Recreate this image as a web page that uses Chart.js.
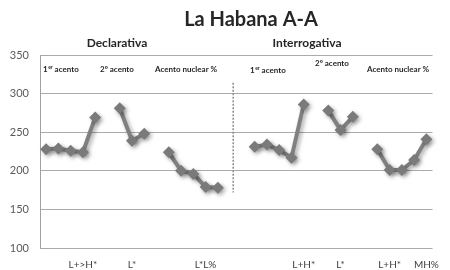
<!DOCTYPE html>
<html>
<head>
<meta charset="utf-8">
<script src="https://cdn.jsdelivr.net/npm/chart.js@4"></script>
<style>
  html, body { margin: 0; padding: 0; background: #fff; }
  #chart { display: block; }
</style>
</head>
<body>
<canvas id="chart" width="450" height="270"></canvas>
<script>
// 32 category slots; blank slots separate the groups
const categories = [
  "", "", "", "L+>H*", "", "",          // declarativa 1er acento (0-4), gap 5
  "", "L*", "", "",                      // 2º acento (6-8), gap 9
  "", "", "", "L*L%", "",                // acento nuclear (10-14)
  "", "",                                // gap 15-16
  "", "", "", "", "L+H*", "",            // interrogativa 1er acento (17-21), gap 22
  "", "L*", "", "",                      // 2º acento (23-25), gap 26
  "", "L+H*", "", "", "MH%"              // acento nuclear (27-31)
];

const declPrimer = [228, 229, 226, 224, 269];
const declSegundo = [281, 239, 248];
const declNuclear = [224, 200, 196, 179, 178];
const intPrimer = [231, 234, 227, 217, 286];
const intSegundo = [278, 253, 270];
const intNuclear = [228, 201, 201, 214, 241];

const yTicks = [100, 150, 200, 250, 300, 350];

const values = [
  ...declPrimer, null,
  ...declSegundo, null,
  ...declNuclear, null, null,
  ...intPrimer, null,
  ...intSegundo, null,
  ...intNuclear
];

const FONT = "Lato, 'Open Sans', sans-serif";

const shadowPlugin = {
  id: "shadow",
  beforeDatasetsDraw(chart) {
    const ctx = chart.ctx;
    ctx.save();
    ctx.shadowColor = "rgba(0,0,0,0.35)";
    ctx.shadowBlur = 4;
    ctx.shadowOffsetX = 2;
    ctx.shadowOffsetY = 2;
  },
  afterDatasetsDraw(chart) {
    chart.ctx.restore();
  }
};

const labelsPlugin = {
  id: "labels",
  afterDraw(chart) {
    const ctx = chart.ctx;
    const x = chart.scales.x;
    const y = chart.scales.y;

    // dashed divider between declarativa and interrogativa
    const step = x.getPixelForValue(16) - x.getPixelForValue(15);
    const xd = x.getPixelForValue(15) + step * 0.25;
    ctx.save();
    ctx.strokeStyle = "#8a8a8a";
    ctx.lineWidth = 1.5;
    ctx.setLineDash([2, 1.5]);
    ctx.beginPath();
    ctx.moveTo(xd, y.getPixelForValue(314));
    ctx.lineTo(xd, y.getPixelForValue(172));
    ctx.stroke();
    ctx.restore();

    ctx.save();
    ctx.fillStyle = "#262626";
    ctx.textBaseline = "middle";
    ctx.textAlign = "center";
    ctx.font = "bold 20px " + FONT;
    ctx.fillText("La Habana A-A", 251, 20);

    ctx.font = "bold 12px " + FONT;
    ctx.fillText("Declarativa", 117, 43);
    ctx.fillText("Interrogativa", 307, 43);

    ctx.textAlign = "left";
    const small = "bold 8px " + FONT;
    const sup = "bold 5px " + FONT;
    function primer(px, py) {
      ctx.font = small;
      ctx.fillText("1", px, py);
      let w = ctx.measureText("1").width;
      ctx.font = sup;
      ctx.fillText("er", px + w + 0.5, py - 2);
      w += ctx.measureText("er").width + 0.5;
      ctx.font = small;
      ctx.fillText(" acento", px + w, py);
    }
    primer(43, 69);
    ctx.font = small;
    ctx.fillText("2º acento", 100, 69);
    ctx.fillText("Acento nuclear %", 155, 69);
    primer(250, 70);
    ctx.font = small;
    ctx.fillText("2º acento", 315, 63);
    ctx.fillText("Acento nuclear %", 367, 69);
    ctx.restore();
  }
};

new Chart(document.getElementById("chart"), {
  type: "line",
  data: {
    labels: categories,
    datasets: [{
      data: values,
      borderColor: "#808080",
      backgroundColor: "#7a7a7a",
      borderWidth: 4,
      pointStyle: "rectRot",
      pointRadius: 6,
      pointBorderWidth: 0,
      spanGaps: false,
      tension: 0
    }]
  },
  options: {
    responsive: false,
    animation: false,
    layout: { padding: { top: 55, right: 8, left: 0, bottom: 0 } },
    plugins: {
      legend: { display: false },
      tooltip: { enabled: false },
      title: { display: false }
    },
    scales: {
      x: {
        offset: true,
        grid: { display: false, drawTicks: false },
        border: { display: false },
        ticks: {
          autoSkip: false,
          maxRotation: 0,
          padding: 11,
          color: "#404040",
          font: { family: FONT, size: 10 }
        },
        afterFit(scale) { scale.height = 22; }
      },
      y: {
        min: 100,
        max: 350,
        afterBuildTicks(scale) { scale.ticks = yTicks.map(v => ({ value: v })); },
        grid: { color: "#ababab", lineWidth: 1, drawTicks: false },
        border: { display: true, color: "#a0a0a0", width: 1 },
        ticks: {
          padding: 11,
          color: "#595959",
          font: { family: FONT, size: 11 }
        },
        afterFit(scale) { scale.width = 40; }
      }
    }
  },
  plugins: [shadowPlugin, labelsPlugin]
});
</script>
</body>
</html>
